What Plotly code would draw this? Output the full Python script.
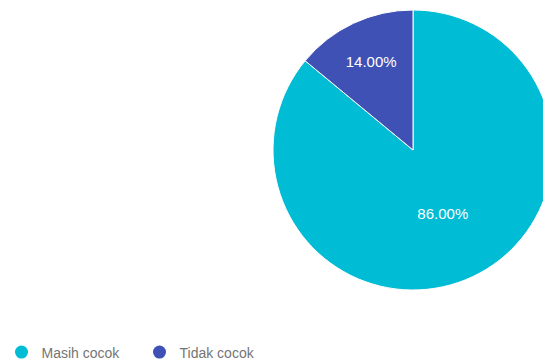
import plotly.graph_objects as go

labels = ["Masih cocok", "Tidak cocok"]
values = [86, 14]
colors = ["#00BCD4", "#3F51B5"]

W, H = 600, 360
MB = 40
PH = H - MB
cx, cy, r = 413, 150, 140

fig = go.Figure()
fig.add_trace(go.Pie(
    labels=labels, values=values, sort=False, direction="clockwise", rotation=0,
    marker=dict(colors=colors, line=dict(color="white", width=1)),
    texttemplate="%{percent:.2%}", textposition="inside",
    insidetextorientation="horizontal",
    insidetextfont=dict(color="white", size=15, family="Liberation Sans, Arial"),
    hoverinfo="label+percent",
    domain=dict(x=[(cx - r) / W, (cx + r) / W],
                y=[(PH - cy - r) / PH, (PH - cy + r) / PH]),
    showlegend=False,
))
for lab, col in zip(labels, colors):
    fig.add_trace(go.Scatter(
        x=[None], y=[None], mode="markers", name=lab,
        marker=dict(color=col, size=13, symbol="circle"),
    ))

fig.update_layout(
    width=W, height=H,
    margin=dict(l=0, r=0, t=0, b=MB),
    paper_bgcolor="white", plot_bgcolor="white",
    xaxis=dict(visible=False), yaxis=dict(visible=False),
    font=dict(family="Liberation Sans, Arial", size=14, color="#757575"),
    legend=dict(orientation="h", x=1.5 / W, xanchor="left",
                yref="container", y=(H - 352.5) / H, yanchor="middle",
                entrywidth=93, entrywidthmode="pixels",
                font=dict(size=14, color="#757575")),
)

fig.write_html("out.html", post_script="document.body.style.overflow='hidden';document.documentElement.style.overflow='hidden';")
